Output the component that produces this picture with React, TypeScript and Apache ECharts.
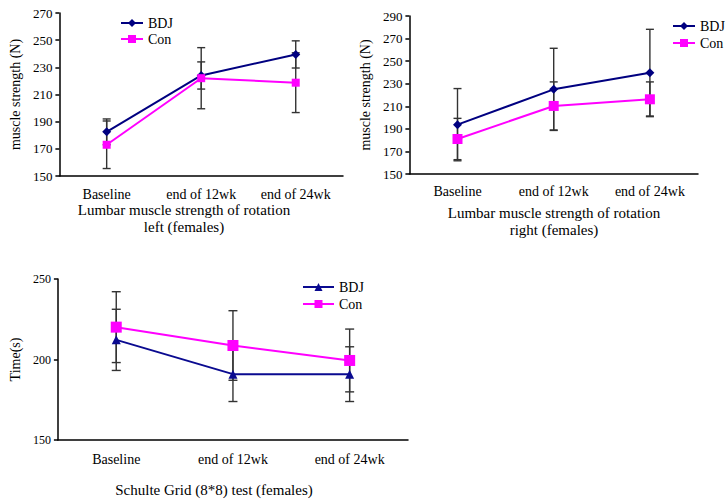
import React, { useEffect, useRef } from "react";
import * as echarts from "echarts";

const categories = ["Baseline", "end of 12wk", "end of 24wk"];

// Chart 1: rotation left
const leftBDJ = [182.5, 224, 239.5];
const leftBDJErr = [9.5, 10, 10];
const leftCon = [173, 222, 218.7];
const leftConErr = [17.5, 22.5, 22];

// Chart 2: rotation right
const rightBDJ = [193.7, 225, 239.8];
const rightBDJErr = [32, 36.4, 38.4];
const rightCon = [181, 210.3, 216.2];
const rightConErr = [18.3, 21.3, 15.4];

// Chart 3: Schulte grid
const schBDJ = [212.2, 190.9, 190.9];
const schBDJErr = [19, 17, 17];
const schCon = [220.1, 208.7, 199.4];
const schConErr = [22, 21.6, 19.5];

const FONT = '"Liberation Serif", "Times New Roman", serif';
const NAVY = "#000080";
const MAGENTA = "#FF00FF";

function errData(vals: number[], errs: number[]) {
  return vals.map((v, i) => [i, v - errs[i], v + errs[i]]);
}

function errSeries(vals: number[], errs: number[], cap: number) {
  return {
    type: "custom",
    z: 1,
    silent: true,
    encode: { x: 0, y: [1, 2] },
    data: errData(vals, errs),
    renderItem: (params: any, api: any) => {
      const x = api.value(0);
      const lo = api.coord([x, api.value(1)]);
      const hi = api.coord([x, api.value(2)]);
      const style = { stroke: "#333333", lineWidth: 1.4 };
      return {
        type: "group",
        children: [
          { type: "line", shape: { x1: hi[0], y1: hi[1], x2: lo[0], y2: lo[1] }, style },
          { type: "line", shape: { x1: hi[0] - cap, y1: hi[1], x2: hi[0] + cap, y2: hi[1] }, style },
          { type: "line", shape: { x1: lo[0] - cap, y1: lo[1], x2: lo[0] + cap, y2: lo[1] }, style },
        ],
      };
    },
  };
}

function makeOption(cfg: any) {
  return {
    animation: false,
    textStyle: { fontFamily: FONT },
    grid: cfg.grid,
    legend: {
      orient: "vertical",
      left: cfg.legend.left,
      top: cfg.legend.top,
      padding: 0,
      itemWidth: cfg.legend.itemWidth,
      itemHeight: 10,
      itemGap: cfg.legend.gap,
      textStyle: { fontFamily: FONT, fontSize: 14, color: "#000", lineHeight: 14 },
      data: ["BDJ", "Con"],
    },
    xAxis: {
      type: "category",
      data: categories,
      axisLine: { lineStyle: { color: "#000", width: 1.5 } },
      axisTick: { length: 4, lineStyle: { color: "#000", width: 1.5 } },
      axisLabel: { color: "#000", fontFamily: FONT, fontSize: 14, margin: cfg.xLabelMargin },
      splitLine: { show: false },
    },
    yAxis: {
      type: "value",
      min: cfg.y.min,
      max: cfg.y.max,
      interval: cfg.y.interval,
      name: cfg.y.name,
      nameLocation: "middle",
      nameRotate: 90,
      nameGap: cfg.y.nameGap,
      nameTextStyle: { color: "#000", fontFamily: FONT, fontSize: 14 },
      axisLine: { show: true, lineStyle: { color: "#000", width: 1.5 } },
      axisTick: { show: true, length: 4, lineStyle: { color: "#000", width: 1.5 } },
      axisLabel: { color: "#000", fontFamily: FONT, fontSize: cfg.y.fontSize, margin: 7 },
      splitLine: { show: false },
    },
    graphic: cfg.titles.map((t: any) => ({
      type: "text",
      x: t.x,
      y: t.y,
      style: {
        text: t.text,
        fill: "#000",
        font: `15px ${FONT}`,
        textAlign: "center",
        textVerticalAlign: "middle",
      },
    })),
    series: [
      errSeries(cfg.bdj, cfg.bdjErr, cfg.cap),
      errSeries(cfg.con, cfg.conErr, cfg.cap),
      {
        name: "BDJ",
        type: "line",
        z: 3,
        data: cfg.bdj,
        symbol: cfg.bdjSymbol,
        symbolSize: cfg.bdjSize,
        itemStyle: { color: cfg.bdjColor },
        lineStyle: { color: cfg.bdjColor, width: 2 },
      },
      {
        name: "Con",
        type: "line",
        z: 4,
        data: cfg.con,
        symbol: "rect",
        symbolSize: cfg.conSize,
        itemStyle: { color: MAGENTA },
        lineStyle: { color: MAGENTA, width: 2 },
      },
    ],
  };
}

const configs = [
  {
    box: { left: 0, top: 0, width: 350, height: 240 },
    grid: { left: 47, top: 13, width: 296, height: 163 },
    legend: { left: 120, top: 16, itemWidth: 22, gap: 2 },
    xLabelMargin: 11,
    y: { min: 150, max: 270, interval: 20, name: "muscle strength (N)", nameGap: 32, fontSize: 13 },
    titles: [
      { text: "Lumbar muscle strength of rotation", x: 184, y: 210 },
      { text: "left (females)", x: 184, y: 227 },
    ],
    bdj: leftBDJ, bdjErr: leftBDJErr, con: leftCon, conErr: leftConErr,
    bdjSymbol: "diamond", bdjSize: 9, conSize: 8, bdjColor: NAVY, cap: 4,
  },
  {
    box: { left: 350, top: 0, width: 376, height: 250 },
    grid: { left: 50, top: 16, width: 298, height: 158 },
    legend: { left: 322, top: 19, itemWidth: 22, gap: 3 },
    xLabelMargin: 10,
    y: { min: 150, max: 290, interval: 20, name: "muscle strength (N)", nameGap: 28, fontSize: 13 },
    titles: [
      { text: "Lumbar muscle strength of rotation", x: 204, y: 213 },
      { text: "right (females)", x: 204, y: 230 },
    ],
    bdj: rightBDJ, bdjErr: rightBDJErr, con: rightCon, conErr: rightConErr,
    bdjSymbol: "diamond", bdjSize: 9, conSize: 10, bdjColor: NAVY, cap: 4,
  },
  {
    box: { left: 0, top: 240, width: 420, height: 261 },
    grid: { left: 52, top: 39, width: 356, height: 161 },
    legend: { left: 302, top: 40, itemWidth: 31, gap: 3 },
    xLabelMargin: 12,
    y: { min: 150, max: 250, interval: 50, name: "Time(s)", nameGap: 35, fontSize: 12 },
    titles: [{ text: "Schulte Grid (8*8) test (females)", x: 214, y: 250 }],
    bdj: schBDJ, bdjErr: schBDJErr, con: schCon, conErr: schConErr,
    bdjSymbol: "triangle", bdjSize: 9, conSize: 11, bdjColor: "#0A0A90", cap: 4.5,
  },
];

function Chart({ cfg }: { cfg: any }) {
  const ref = useRef<HTMLDivElement>(null);
  useEffect(() => {
    if (!ref.current) return;
    const chart = echarts.init(ref.current, undefined, { renderer: "svg" });
    chart.setOption(makeOption(cfg));
    return () => chart.dispose();
  }, [cfg]);
  return (
    <div
      ref={ref}
      style={{
        position: "absolute",
        left: cfg.box.left,
        top: cfg.box.top,
        width: cfg.box.width,
        height: cfg.box.height,
      }}
    />
  );
}

export default function App() {
  return (
    <div
      style={{
        position: "fixed",
        left: 0,
        top: 0,
        width: 726,
        height: 501,
        background: "#fff",
        overflow: "hidden",
      }}
    >
      {configs.map((c, i) => (
        <Chart key={i} cfg={c} />
      ))}
    </div>
  );
}
